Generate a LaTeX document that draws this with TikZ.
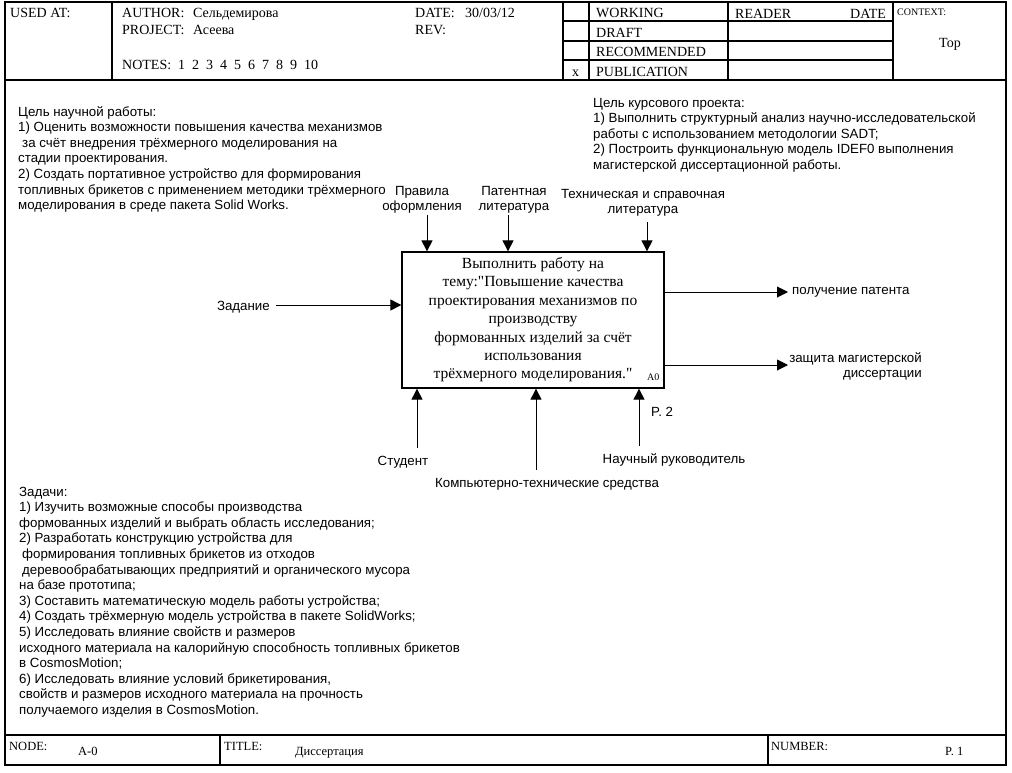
\documentclass[tikz,border=0pt]{standalone}
\usepackage{fontspec}
\setmainfont{Liberation Serif}
\setsansfont{Liberation Sans}
\usetikzlibrary{arrows.meta}
\newcommand\leftlines[1]{\begin{tabular}[t]{@{}l@{}}#1\end{tabular}}
\newcommand\centerlines[1]{\begin{tabular}[t]{@{}c@{}}#1\end{tabular}}
\newcommand\rightlines[1]{\begin{tabular}[t]{@{}r@{}}#1\end{tabular}}
\begin{document}
\begin{tikzpicture}[x=1pt,y=-1pt,
  tbl/.style={line width=1.5pt},
  hd/.style={font=\fontsize{14}{17}\selectfont, inner sep=0pt, anchor=base west},
  ft/.style={font=\fontsize{12.5}{15}\selectfont, inner sep=0pt, anchor=base west},
  sm/.style={font=\fontsize{10}{12}\selectfont, inner sep=0pt, anchor=base west},
  lbl/.style={font=\sffamily\fontsize{13.3}{15.5}\selectfont, inner sep=0pt},
  note/.style={font=\sffamily\fontsize{13.3}{15.6}\selectfont, inner sep=0pt, anchor=base west},
  arr/.style={line width=1pt, -{Triangle[length=11pt,width=11pt]}},
  fn/.style={draw, line width=1.3pt, minimum width=262pt, minimum height=136pt, inner sep=0pt,
    font=\fontsize{15.5}{18.4}\selectfont}]
\useasboundingbox (0,0) rectangle (1012,772);
% frame
\draw[tbl] (5,2) rectangle (1006,765);
\draw[tbl] (5,80) -- (1006,80);
\draw[tbl] (112,2) -- (112,80);
\draw[tbl] (563,2) -- (563,80);
\draw[tbl] (589,2) -- (589,80);
\draw[tbl] (728,2) -- (728,80);
\draw[tbl] (893,2) -- (893,80);
\draw[tbl] (563,21) -- (893,21);
\draw[tbl] (563,41) -- (893,41);
\draw[tbl] (563,60) -- (893,60);
\draw[tbl] (5,735) -- (1006,735);
\draw[tbl] (220,735) -- (220,765);
\draw[tbl] (768,735) -- (768,765);
% header text
\node[hd] (usedat) at (10,17) {USED AT:};
\node[hd] (author) at (122,17) {AUTHOR:};
\node[hd] (authorv) at (193,17) {Сельдемирова};
\node[hd] (project) at (122,34) {PROJECT:};
\node[hd] (projectv) at (193,34) {Асеева};
\node[hd] (notes) at (122,69) {NOTES:~~1~~2~~3~~4~~5~~6~~7~~8~~9~~10};
\node[hd] (date) at (415,17) {DATE:};
\node[hd] (datev) at (465,17) {30/03/12};
\node[hd] (rev) at (415,34) {REV:};
\node[hd] (working) at (596,17) {WORKING};
\node[hd] (draft) at (596,37) {DRAFT};
\node[hd] (recom) at (596,56) {RECOMMENDED};
\node[hd] (publ) at (596,76) {PUBLICATION};
\node[hd] (xmark) at (572,76) {x};
\node[hd] (reader) at (735,18) {READER};
\node[hd] (rdate) at (850,18) {DATE};
\node[sm] (context) at (897,15) {CONTEXT:};
\node[hd, anchor=base] (top) at (950,47) {Top};
% footer text
\node[ft] (nodel) at (9,750) {NODE:};
\node[ft] (nodev) at (78,755) {A-0};
\node[ft] (titlel) at (224,750) {TITLE:};
\node[ft] (titlev) at (295,755) {Диссертация};
\node[ft] (numl) at (771,750) {NUMBER:};
\node[ft] (numv) at (945,755) {P. 1};
% notes
\node[note] (goal1) at (18,116) {\leftlines{Цель научной работы:\\
1) Оценить возможности повышения качества механизмов\\
\hspace{4pt}за счёт внедрения трёхмерного моделирования на\\
стадии проектирования.\\
2) Создать портативное устройство для формирования\\
топливных брикетов с применением методики трёхмерного\\
моделирования в среде пакета Solid Works.}};
\node[note] (goal2) at (593,107) {\leftlines{Цель курсового проекта:\\
1) Выполнить структурный анализ научно-исследовательской\\
работы с использованием методологии SADT;\\
2) Построить функциональную модель IDEF0 выполнения\\
магистерской диссертационной работы.}};
\node[note] (tasks) at (19,496) {\leftlines{Задачи:\\
1) Изучить возможные способы производства\\
формованных изделий и выбрать область исследования;\\
2) Разработать конструкцию устройства для\\
\hspace{3pt}формирования топливных брикетов из отходов\\
\hspace{3pt}деревообрабатывающих предприятий и органического мусора\\
на базе прототипа;\\
3) Составить математическую модель работы устройства;\\
4) Создать трёхмерную модель устройства в пакете SolidWorks;\\
5) Исследовать влияние свойств и размеров\\
исходного материала на калорийную способность топливных брикетов\\
в CosmosMotion;\\
6) Исследовать влияние условий брикетирования,\\
свойств и размеров исходного материала на прочность\\
получаемого изделия в CosmosMotion.}};
% function box
\node[fn] (A0) at (533,320) {\begin{tabular}{@{}c@{}}Выполнить работу на\\
тему:\textquotedbl Повышение качества\\
проектирования механизмов по\\
производству\\
формованных изделий за счёт\\
использования\\
трёхмерного моделирования.\textquotedbl\end{tabular}};
\node[sm, anchor=base west] (A0num) at (647,380) {A0};
% controls
\coordinate (c1s) at (427,215);
\coordinate (c2s) at (508,215);
\coordinate (c3s) at (647,222);
\draw[arr] (c1s) -- (c1s |- A0.north);
\draw[arr] (c2s) -- (c2s |- A0.north);
\draw[arr] (c3s) -- (c3s |- A0.north);
\node[lbl, anchor=base] (c1l) at (422,195) {\centerlines{Правила\\оформления}};
\node[lbl, anchor=base] (c2l) at (514,195) {\centerlines{Патентная\\литература}};
\node[lbl, anchor=base] (c3l) at (643,198) {\centerlines{Техническая и справочная\\литература}};
% input
\coordinate (i1s) at (276,305);
\draw[arr] (i1s) -- (i1s -| A0.west);
\node[lbl, anchor=base east] (i1l) at (270,310) {Задание};
% outputs
\coordinate (o1e) at (788,292);
\coordinate (o2e) at (788,365);
\draw[arr] (o1e -| A0.east) -- (o1e);
\draw[arr] (o2e -| A0.east) -- (o2e);
\node[lbl, anchor=base west] (o1l) at (792,294) {получение патента};
\node[lbl, anchor=base east] (o2l) at (922,362) {\rightlines{защита магистерской\\диссертации}};
% mechanisms
\coordinate (m1s) at (417,448);
\coordinate (m2s) at (536,470);
\coordinate (m3s) at (639,446);
\draw[arr] (m1s) -- (m1s |- A0.south);
\draw[arr] (m2s) -- (m2s |- A0.south);
\draw[arr] (m3s) -- (m3s |- A0.south);
\node[lbl, anchor=base] (m1l) at (403,465) {Студент};
\node[lbl, anchor=base] (m2l) at (547,487) {Компьютерно-технические средства};
\node[lbl, anchor=base] (m3l) at (674,463) {Научный руководитель};
\node[lbl, anchor=base west] (p2) at (651,416) {P. 2};
\end{tikzpicture}
\end{document}
